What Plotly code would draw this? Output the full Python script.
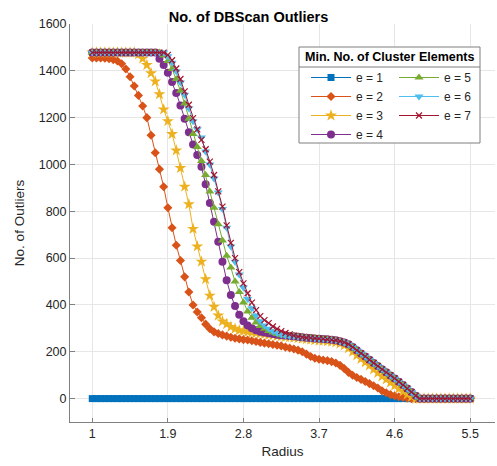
import numpy as np
import plotly.graph_objects as go

# Radius grid (1.0 .. 5.5 in steps of 0.05)
radius = np.round(np.linspace(1.0, 5.5, 91), 2)

# Number of DBSCAN outliers per minimum cluster size
e1 = [0] * 91
e2 = [1455, 1455, 1455, 1454, 1452, 1448, 1442, 1430, 1408, 1375,
      1335, 1295, 1250, 1200, 1125, 1050, 980, 905, 815, 730,
      655, 590, 520, 455, 400, 370, 345, 318, 298, 285,
      278, 272, 267, 262, 258, 255, 252, 250, 247, 244,
      240, 237, 234, 231, 228, 225, 220, 216, 212, 207,
      200, 190, 180, 172, 168, 165, 162, 158, 152, 142,
      128, 112, 100, 90, 82, 73, 64, 55, 45, 33,
      25, 17, 12, 8, 5, 2, 0, 0, 0, 0,
      0, 0, 0, 0, 0, 0, 0, 0, 0, 0, 0]
e3 = [1478, 1478, 1478, 1478, 1478, 1478, 1478, 1478, 1478, 1478,
      1478, 1470, 1452, 1425, 1390, 1355, 1300, 1235, 1185, 1130,
      1060, 985, 905, 830, 725, 650, 585, 510, 440, 392,
      355, 330, 318, 306, 298, 292, 288, 285, 282, 280,
      278, 275, 272, 270, 268, 266, 264, 262, 260, 258,
      256, 254, 252, 250, 248, 247, 245, 243, 240, 235,
      227, 215, 200, 185, 170, 155, 142, 125, 110, 95,
      82, 68, 55, 42, 30, 18, 7, 0, 0, 0,
      0, 0, 0, 0, 0, 0, 0, 0, 0, 0, 0]
e4 = [1478, 1478, 1478, 1478, 1478, 1478, 1478, 1478, 1478, 1478,
      1478, 1478, 1478, 1478, 1478, 1478, 1452, 1425, 1392, 1352,
      1305, 1252, 1195, 1138, 1085, 1040, 990, 915, 835, 755,
      670, 585, 505, 442, 395, 358, 330, 312, 300, 292,
      286, 282, 279, 276, 273, 271, 269, 267, 266, 264,
      262, 260, 259, 257, 256, 255, 253, 251, 249, 245,
      240, 232, 220, 206, 193, 180, 166, 152, 139, 125,
      112, 99, 86, 72, 58, 43, 28, 12, 0, 0,
      0, 0, 0, 0, 0, 0, 0, 0, 0, 0, 0]
e5 = [1478, 1478, 1478, 1478, 1478, 1478, 1478, 1478, 1478, 1478,
      1478, 1478, 1478, 1478, 1478, 1478, 1478, 1465, 1442, 1408,
      1365, 1315, 1260, 1195, 1130, 1075, 1015, 955, 885, 815,
      745, 675, 610, 560, 500, 455, 410, 372, 345, 325,
      310, 298, 289, 282, 276, 271, 269, 267, 266, 264,
      262, 260, 259, 257, 256, 255, 253, 251, 249, 245,
      240, 232, 220, 206, 193, 180, 166, 152, 139, 125,
      112, 99, 86, 72, 58, 43, 28, 12, 0, 0,
      0, 0, 0, 0, 0, 0, 0, 0, 0, 0, 0]
e6 = [1478, 1478, 1478, 1478, 1478, 1478, 1478, 1478, 1478, 1478,
      1478, 1478, 1478, 1478, 1478, 1478, 1478, 1478, 1462, 1435,
      1398, 1350, 1298, 1240, 1185, 1150, 1115, 1055, 1000, 940,
      880, 810, 730, 650, 585, 530, 475, 425, 386, 355,
      330, 312, 298, 288, 280, 274, 270, 267, 266, 264,
      262, 260, 259, 257, 256, 255, 253, 251, 249, 245,
      240, 232, 220, 206, 193, 180, 166, 152, 139, 125,
      112, 99, 86, 72, 58, 43, 28, 12, 0, 0,
      0, 0, 0, 0, 0, 0, 0, 0, 0, 0, 0]
e7 = [1478, 1478, 1478, 1478, 1478, 1478, 1478, 1478, 1478, 1478,
      1478, 1478, 1478, 1478, 1478, 1478, 1478, 1478, 1468, 1445,
      1410, 1365, 1312, 1255, 1198, 1150, 1105, 1065, 1012, 955,
      885, 820, 740, 665, 600, 540, 492, 450, 410, 378,
      352, 335, 322, 308, 298, 288, 280, 274, 269, 265,
      262, 260, 259, 257, 256, 255, 253, 251, 249, 245,
      240, 232, 220, 206, 193, 180, 166, 152, 139, 125,
      112, 99, 86, 72, 58, 43, 28, 12, 0, 0,
      0, 0, 0, 0, 0, 0, 0, 0, 0, 0, 0]

series_names = ["e = 1", "e = 2", "e = 3", "e = 4", "e = 5", "e = 6", "e = 7"]
series_values = [e1, e2, e3, e4, e5, e6, e7]
colors = ["#0072BD", "#D95319", "#EDB120", "#7E2F8E", "#77AC30", "#4DBEEE", "#A2142F"]
symbols = ["square", "diamond", "star", "circle", "triangle-up", "triangle-down", "x-thin"]
sizes = [7, 7, 9, 8, 8, 8, 6]
legend_ids = ["legend", "legend", "legend", "legend", "legend2", "legend2", "legend2"]

x_ticks = [1, 1.9, 2.8, 3.7, 4.6, 5.5]
y_ticks = list(range(0, 1601, 200))

FONT = "Liberation Sans, Arial, sans-serif"
TXT = "#262626"

fig = go.Figure()
for name, vals, col, sym, sz, lg in zip(series_names, series_values, colors,
                                        symbols, sizes, legend_ids):
    fig.add_trace(go.Scatter(
        x=radius, y=vals, name=name, mode="lines+markers", legend=lg,
        line=dict(color=col, width=1),
        marker=dict(symbol=sym, size=sz, color=col,
                    line=dict(color=col, width=1.2 if sym == "x-thin" else 0)),
    ))

# plot area in pixels: x 70..495, y 24..422
W, H = 497, 466
L, R, T, B = 70, 2, 24, 44
pw, ph = W - L - R, H - T - B


def px(x):
    return (x - L) / pw


def py(y):
    return (H - B - y) / ph


# legend box
box_l, box_r, box_t, box_b = 299, 480, 47, 143
fig.add_shape(type="rect", xref="paper", yref="paper",
              x0=px(box_l), x1=px(box_r), y0=py(box_b), y1=py(box_t),
              fillcolor="white", line=dict(color="#7f7f7f", width=1), layer="above")
fig.add_shape(type="line", xref="paper", yref="paper",
              x0=px(box_l), x1=px(box_r), y0=py(67), y1=py(67),
              line=dict(color="#7f7f7f", width=1), layer="above")
fig.add_annotation(text="<b>Min. No. of Cluster Elements</b>", xref="paper", yref="paper",
                   x=px((box_l + box_r) / 2), y=py(57), showarrow=False,
                   xanchor="center", yanchor="middle",
                   font=dict(family=FONT, size=12.5, color="black"))

legend_style = dict(bgcolor="rgba(0,0,0,0)", borderwidth=0,
                    font=dict(family=FONT, size=12, color=TXT),
                    xanchor="left", yanchor="top", tracegroupgap=0,
                    itemwidth=40, itemclick=False, itemdoubleclick=False)

fig.update_layout(
    width=W, height=H,
    margin=dict(l=L, r=R, t=T, b=B),
    paper_bgcolor="white", plot_bgcolor="white",
    font=dict(family=FONT, size=12, color=TXT),
    title=dict(text="<b>No. of DBScan Outliers</b>", x=px(282.5), xanchor="center",
               y=1 - 16.5 / H, yanchor="middle",
               font=dict(family=FONT, size=14.5, color="black")),
    showlegend=True,
    legend=dict(x=px(306), y=py(63), **legend_style),
    legend2=dict(x=px(394), y=py(63), **legend_style),
    xaxis=dict(range=[0.735, 5.795], tickvals=x_ticks, ticktext=[str(t) for t in x_ticks],
               showgrid=True, gridcolor="#e6e6e6", gridwidth=1, zeroline=False,
               showline=True, linecolor="#808080", linewidth=1, mirror=False,
               ticks="inside", ticklen=4, tickcolor="#808080",
               tickfont=dict(family=FONT, size=12.5, color=TXT),
               title=dict(text="Radius", font=dict(family=FONT, size=13.5, color=TXT),
                          standoff=6)),
    yaxis=dict(range=[-100, 1600], tickvals=y_ticks,
               showgrid=True, gridcolor="#e6e6e6", gridwidth=1, zeroline=False,
               showline=True, linecolor="#808080", linewidth=1, mirror=False,
               ticks="inside", ticklen=5, tickcolor="#808080",
               tickfont=dict(family=FONT, size=12.5, color=TXT),
               title=dict(text="No. of Outliers", font=dict(family=FONT, size=13.5, color=TXT),
                          standoff=10)),
)

fig.write_html("out.html")
